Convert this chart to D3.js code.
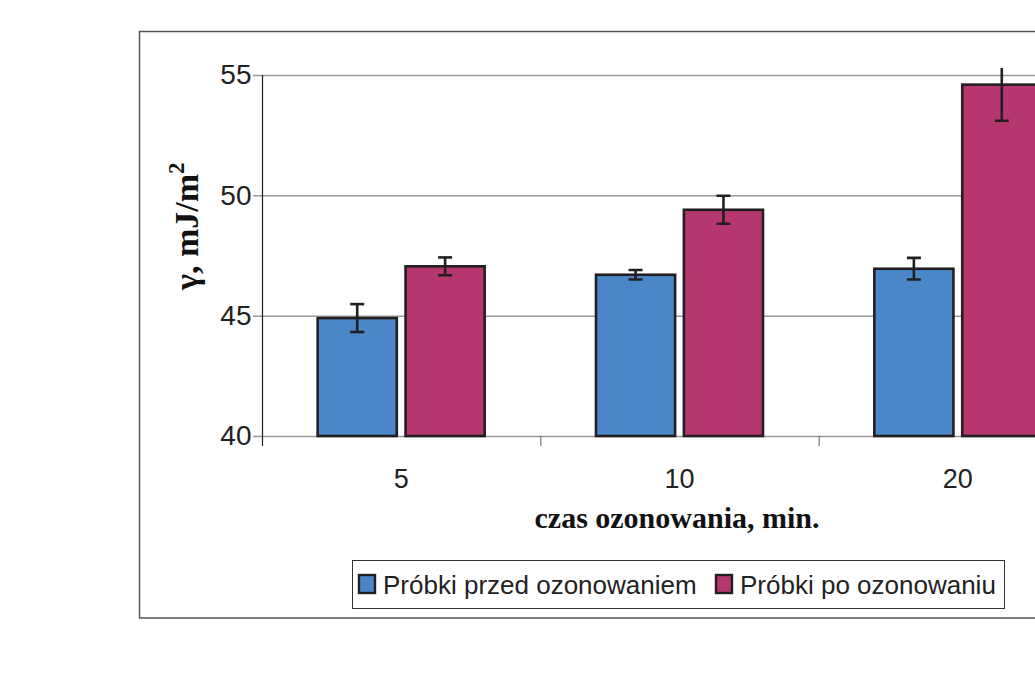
<!DOCTYPE html>
<html>
<head>
<meta charset="utf-8">
<script src="https://cdn.jsdelivr.net/npm/d3@7"></script>
<style>
  html, body { margin: 0; padding: 0; background: #fff; }
  svg { display: block; }
</style>
</head>
<body>
<svg id="chart" width="1035" height="683"></svg>
<script>
// Surface free energy before and after ozonation
const categories = ["5", "10", "20"];
const series = ["Próbki przed ozonowaniem", "Próbki po ozonowaniu"];
const valuesBefore = [44.9, 46.7, 46.95];
const valuesAfter = [47.05, 49.4, 54.6];
const errorsBefore = [0.58, 0.2, 0.45];
const errorsAfter = [0.37, 0.58, 1.5];
const yTicks = [40, 45, 50, 55];
const colors = ["#4a86c8", "#b6376f"];

const svg = d3.select("#chart");
const plot = { left: 262, right: 1097, top: 75, bottom: 436 };

// outer chart frame
svg.append("rect")
  .attr("x", 139.5).attr("y", 31.5)
  .attr("width", 1000).attr("height", 586.5)
  .attr("fill", "none").attr("stroke", "#555").attr("stroke-width", 1.5);

const y = d3.scaleLinear().domain([40, 55]).range([plot.bottom, plot.top]);
const x0 = d3.scaleBand().domain(categories).range([plot.left, plot.right]).padding(0);
const bw = x0.bandwidth();
const x1 = d3.scaleBand().domain(series).range([bw * 0.2, bw * 0.8]).paddingInner(0.1);

// horizontal gridlines
svg.append("g")
  .selectAll("line")
  .data(yTicks)
  .join("line")
  .attr("x1", plot.left - 9).attr("x2", plot.right)
  .attr("y1", d => y(d) + 0.5).attr("y2", d => y(d) + 0.5)
  .attr("stroke", "#999").attr("stroke-width", 1.5);

// y axis
const yAxis = svg.append("g")
  .attr("transform", `translate(${plot.left + 0.5},0)`)
  .call(d3.axisLeft(y).tickValues(yTicks).tickSize(0).tickPadding(11));
yAxis.select(".domain").remove();
yAxis.selectAll("text")
  .attr("font-family", "Liberation Sans, Arial, sans-serif")
  .attr("font-size", 28).attr("fill", "#222");
svg.append("line")
  .attr("x1", plot.left + 0.5).attr("x2", plot.left + 0.5)
  .attr("y1", plot.top).attr("y2", plot.bottom + 10)
  .attr("stroke", "#222").attr("stroke-width", 1.2);

// x axis category separators
const xAxis = svg.append("g")
  .attr("transform", `translate(0,${plot.bottom})`)
  .call(d3.axisBottom(x0).tickSize(0).tickPadding(33));
xAxis.select(".domain").remove();
xAxis.selectAll("text")
  .attr("font-family", "Liberation Sans, Arial, sans-serif")
  .attr("font-size", 27).attr("fill", "#222");
svg.append("g")
  .selectAll("line")
  .data(categories.slice(1))
  .join("line")
  .attr("x1", d => x0(d) + 0.5).attr("x2", d => x0(d) + 0.5)
  .attr("y1", plot.bottom).attr("y2", plot.bottom + 10)
  .attr("stroke", "#777").attr("stroke-width", 1.2);

// bars
const rows = categories.map((c, i) => ({
  cat: c,
  items: [
    { s: series[0], v: valuesBefore[i], e: errorsBefore[i], c: colors[0] },
    { s: series[1], v: valuesAfter[i], e: errorsAfter[i], c: colors[1] }
  ]
}));

const groups = svg.append("g")
  .selectAll("g")
  .data(rows)
  .join("g")
  .attr("transform", d => `translate(${x0(d.cat)},0)`);

groups.selectAll("rect")
  .data(d => d.items)
  .join("rect")
  .attr("x", d => x1(d.s))
  .attr("y", d => y(d.v))
  .attr("width", x1.bandwidth())
  .attr("height", d => y(40) - y(d.v))
  .attr("fill", d => d.c)
  .attr("stroke", "#231f20").attr("stroke-width", 2.6);

// error bars (clipped slightly above the plot top)
svg.append("clipPath").attr("id", "errclip")
  .append("rect")
  .attr("x", 0).attr("y", plot.top - 7)
  .attr("width", 1035).attr("height", 683);

const cap = 7;
const eg = groups.selectAll("g.err")
  .data(d => d.items)
  .join("g")
  .attr("class", "err")
  .attr("clip-path", "url(#errclip)")
  .attr("stroke", "#231f20").attr("stroke-width", 2.6);

eg.append("line")
  .attr("x1", d => x1(d.s) + x1.bandwidth() / 2)
  .attr("x2", d => x1(d.s) + x1.bandwidth() / 2)
  .attr("y1", d => y(d.v + d.e)).attr("y2", d => y(d.v - d.e));
eg.append("line")
  .attr("x1", d => x1(d.s) + x1.bandwidth() / 2 - cap)
  .attr("x2", d => x1(d.s) + x1.bandwidth() / 2 + cap)
  .attr("y1", d => y(d.v + d.e)).attr("y2", d => y(d.v + d.e));
eg.append("line")
  .attr("x1", d => x1(d.s) + x1.bandwidth() / 2 - cap)
  .attr("x2", d => x1(d.s) + x1.bandwidth() / 2 + cap)
  .attr("y1", d => y(d.v - d.e)).attr("y2", d => y(d.v - d.e));

// axis titles
svg.append("text")
  .attr("x", 677).attr("y", 528)
  .attr("text-anchor", "middle")
  .attr("font-family", "Liberation Serif, Times New Roman, serif")
  .attr("font-weight", "bold").attr("font-size", 30)
  .attr("fill", "#111")
  .text("czas ozonowania, min.");

const yt = svg.append("text")
  .attr("transform", "translate(198,290) rotate(-90)")
  .attr("text-anchor", "start")
  .attr("font-family", "Liberation Serif, Times New Roman, serif")
  .attr("font-weight", "bold").attr("font-size", 34)
  .attr("fill", "#111");
yt.append("tspan").text("γ, mJ/m");
yt.append("tspan").attr("dy", -14).attr("font-size", 23).text("2");

// legend
const legend = svg.append("g");
legend.append("rect")
  .attr("x", 352.5).attr("y", 560.5)
  .attr("width", 652).attr("height", 48)
  .attr("fill", "#fff").attr("stroke", "#333").attr("stroke-width", 1);

const legendX = [359, 716];
series.forEach((s, i) => {
  legend.append("rect")
    .attr("x", legendX[i]).attr("y", 575)
    .attr("width", 16).attr("height", 18)
    .attr("fill", colors[i]).attr("stroke", "#231f20").attr("stroke-width", 2.4);
  legend.append("text")
    .attr("x", legendX[i] + 24).attr("y", 594)
    .attr("font-family", "Liberation Sans, Arial, sans-serif")
    .attr("font-size", 26).attr("fill", "#222")
    .text(s);
});
</script>
</body>
</html>
